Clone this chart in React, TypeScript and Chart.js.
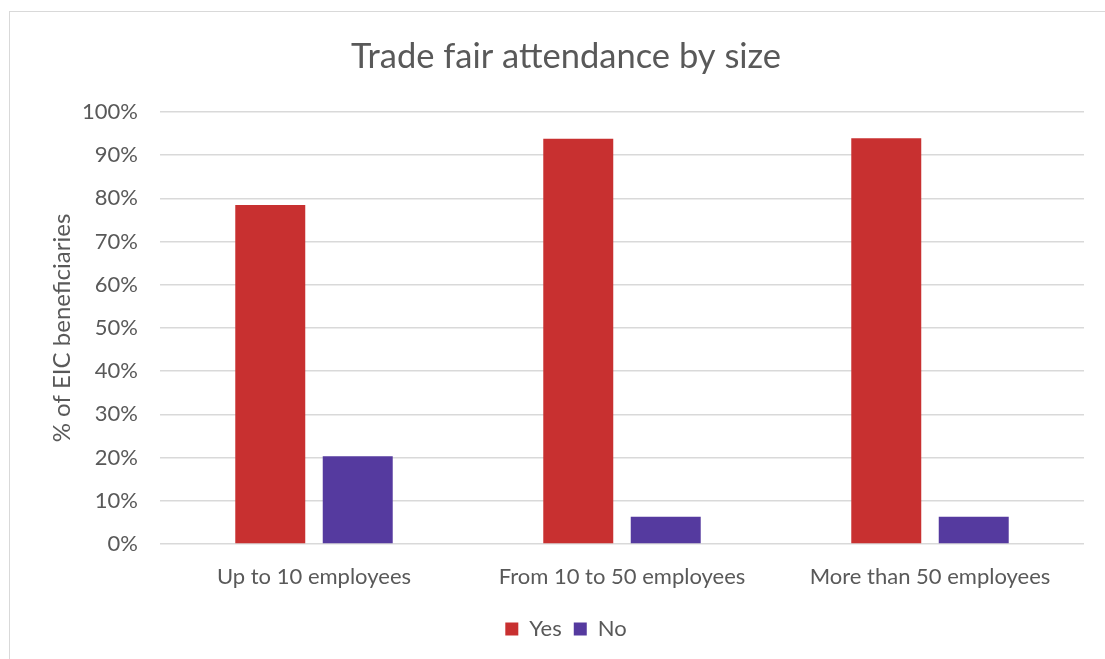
import React, { useEffect, useRef } from "react";
import { Chart, registerables } from "chart.js";

Chart.register(...registerables);

const categories = ["Up to 10 employees", "From 10 to 50 employees", "More than 50 employees"];
const yesValues = [78.5, 93.8, 93.9];
const noValues = [20.3, 6.3, 6.3];
const seriesNames = ["Yes", "No"];
const titleText = "Trade fair attendance by size";
const yAxisTitle = "% of EIC beneficiaries";

const FONT = "Lato, 'Open Sans', sans-serif";
const GRAY = "#595959";

export default function App() {
  const ref = useRef<HTMLCanvasElement | null>(null);

  useEffect(() => {
    if (!ref.current) return;
    const chart = new Chart(ref.current, {
      type: "bar",
      data: {
        labels: categories,
        datasets: [
          {
            label: seriesNames[0],
            data: yesValues,
            backgroundColor: "#C83030",
            categoryPercentage: 0.568,
            barPercentage: 0.8,
          },
          {
            label: seriesNames[1],
            data: noValues,
            backgroundColor: "#553A9F",
            categoryPercentage: 0.568,
            barPercentage: 0.8,
          },
        ],
      },
      options: {
        responsive: false,
        animation: false,
        layout: { padding: { left: 48, right: 21, top: 36, bottom: 9 } },
        plugins: {
          title: {
            display: true,
            text: titleText,
            color: GRAY,
            font: { family: FONT, size: 34.5, weight: "normal" },
            padding: { top: 0, bottom: 34.6 },
          },
          legend: {
            display: true,
            position: "bottom",
            labels: {
              boxWidth: 13,
              boxHeight: 13,
              color: GRAY,
              font: { family: FONT, size: 22 },
              padding: 12,
            },
          },
          tooltip: { enabled: false },
        },
        scales: {
          x: {
            afterFit: (scale: any) => {
              scale.height = 62;
            },
            grid: { display: false, drawTicks: false },
            border: { display: false },
            ticks: {
              color: GRAY,
              font: { family: FONT, size: 22 },
              padding: 20,
              maxRotation: 0,
            },
          },
          y: {
            min: 0,
            max: 100,
            afterFit: (scale: any) => {
              scale.width = 112;
            },
            grid: { color: "#D9D9D9", lineWidth: 1.5, drawTicks: false },
            border: { display: false },
            ticks: {
              stepSize: 10,
              color: GRAY,
              font: { family: FONT, size: 22 },
              padding: 22,
              callback: (v: any) => v + "%",
            },
            title: {
              display: true,
              text: yAxisTitle,
              color: GRAY,
              font: { family: FONT, size: 24 },
              padding: { top: 0, bottom: 0 },
            },
          },
        },
      },
    });
    return () => chart.destroy();
  }, []);

  return (
    <div
      style={{
        position: "fixed",
        left: 0,
        top: 0,
        width: 1105,
        height: 659,
        overflow: "hidden",
        background: "#fff",
      }}
    >
      <div
        style={{
          position: "absolute",
          left: 9,
          top: 11,
          width: 1150,
          height: 700,
          border: "1px solid #D9D9D9",
        }}
      />
      <canvas
        ref={ref}
        width={1105}
        height={659}
        style={{ position: "absolute", left: 0, top: 0, display: "block" }}
      />
    </div>
  );
}
